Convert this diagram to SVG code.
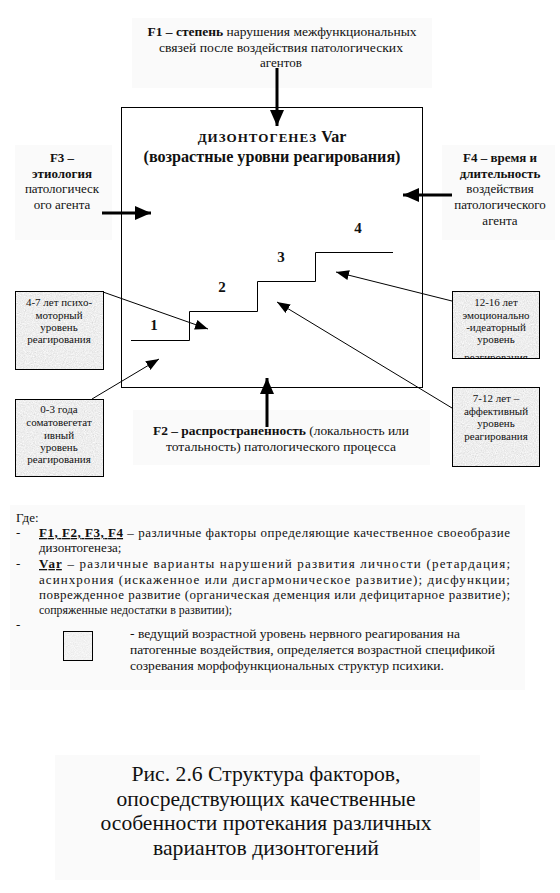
<svg xmlns="http://www.w3.org/2000/svg" width="560" height="893" viewBox="0 0 560 893">
<style>
text{font-family:"Liberation Serif","DejaVu Serif",serif;fill:#111}
.f{font-size:13px}
.b{font-weight:bold}
.lv{font-size:11px}
.lg{font-size:13px}
.cap{font-size:21px}
.bg{fill:#fafafa}
.thick{stroke:#000;stroke-width:3;fill:none}
.thin{stroke:#000;stroke-width:1;fill:none}
.box{fill:none;stroke:#000;stroke-width:1}
.u{text-decoration:underline}
</style>
<defs>
<marker id="hb" markerUnits="userSpaceOnUse" markerWidth="16" markerHeight="14" refX="16" refY="7" orient="auto"><path d="M0,0 L16,7 L0,14 z" fill="#000"/></marker>
<marker id="ht" markerUnits="userSpaceOnUse" markerWidth="13" markerHeight="10" refX="13" refY="5" orient="auto"><path d="M0,0 L13,5 L0,10 z" fill="#000"/></marker>
<filter id="tex" x="0" y="0" width="100%" height="100%">
<feTurbulence type="fractalNoise" baseFrequency="0.9" numOctaves="2" seed="4" result="n"/>
<feColorMatrix in="n" type="matrix" values="0.2 0.2 0.2 0 0.55  0.2 0.2 0.2 0 0.55  0.2 0.2 0.2 0 0.55  0 0 0 0 1" result="g"/>
<feComposite in="g" in2="SourceGraphic" operator="in"/>
</filter>
<clipPath id="clip1216"><rect x="452" y="291" width="88" height="67"/></clipPath>
</defs>
<rect width="560" height="893" fill="#fff"/>

<g id="f1">
<rect class="bg" x="132" y="18" width="300" height="70"/>
<text class="f" text-anchor="middle"><tspan x="282" y="36" textLength="269" lengthAdjust="spacingAndGlyphs"><tspan class="b">F1 – степень</tspan> нарушения межфункциональных</tspan></text>
<text class="f" text-anchor="middle" x="281" y="52" textLength="244" lengthAdjust="spacingAndGlyphs">связей после воздействия патологических</text>
<text class="f" text-anchor="middle" x="281" y="67">агентов</text>
</g>

<g id="f3">
<rect class="bg" x="15" y="145" width="97" height="95"/>
<text class="f" text-anchor="middle"><tspan x="62" y="162" class="b">F3 –</tspan><tspan x="62" y="178" class="b">этиология</tspan><tspan x="62" y="193">патологическ</tspan><tspan x="62" y="209">ого агента</tspan></text>
</g>

<g id="f4">
<rect class="bg" x="442" y="145" width="113" height="95"/>
<text class="f" text-anchor="middle"><tspan x="500" y="162" class="b">F4 – время и</tspan><tspan x="500" y="178" class="b">длительность</tspan><tspan x="500" y="193">воздействия</tspan><tspan x="500" y="209">патологического</tspan><tspan x="500" y="225">агента</tspan></text>
</g>

<g id="f2">
<rect class="bg" x="133" y="410" width="297" height="55"/>
<text class="f" text-anchor="middle" x="281" y="435" textLength="256" lengthAdjust="spacingAndGlyphs"><tspan class="b">F2 – распространенность</tspan> (локальность или</text>
<text class="f" text-anchor="middle" x="281" y="451" textLength="230" lengthAdjust="spacingAndGlyphs">тотальность) патологического процесса</text>
</g>

<g id="main">
<rect class="box" x="121.5" y="107.5" width="301" height="280"/>
<text class="b" font-size="16" text-anchor="middle" x="272" y="142"><tspan font-size="13" letter-spacing="1">ДИЗОНТОГЕНЕЗ</tspan> Var</text>
<text class="b" font-size="16" text-anchor="middle" x="272" y="162" textLength="257" lengthAdjust="spacingAndGlyphs">(возрастные уровни реагирования)</text>
<path class="thin" stroke-width="1.3" d="M131,340.5 H189.5 V311.5 H257.5 V281.5 H315.5 V252.5 H393"/>
<text class="b" font-size="15" text-anchor="middle"><tspan x="154" y="330">1</tspan><tspan x="222" y="292">2</tspan><tspan x="281" y="262">3</tspan><tspan x="358" y="233">4</tspan></text>
</g>

<g id="lvl47">
<rect x="15" y="291" width="88" height="78" fill="#ddd" filter="url(#tex)"/>
<rect class="box" x="15.5" y="291.5" width="88" height="78"/>
<text class="lv" text-anchor="middle"><tspan x="59" y="306">4-7 лет психо-</tspan><tspan x="59" y="319">моторный</tspan><tspan x="59" y="331">уровень</tspan><tspan x="59" y="343">реагирования</tspan></text>
</g>

<g id="lvl03">
<rect x="15" y="399" width="88" height="78" fill="#ddd" filter="url(#tex)"/>
<rect class="box" x="15.5" y="399.5" width="88" height="77"/>
<text class="lv" text-anchor="middle"><tspan x="59" y="413">0-3 года</tspan><tspan x="59" y="426">соматовегетат</tspan><tspan x="59" y="439">ивный</tspan><tspan x="59" y="451">уровень</tspan><tspan x="59" y="463">реагирования</tspan></text>
</g>

<g id="lvl1216">
<rect x="452" y="291" width="88" height="68" fill="#ddd" filter="url(#tex)"/>
<text class="lv" text-anchor="middle" clip-path="url(#clip1216)"><tspan x="496" y="306">12-16 лет</tspan><tspan x="496" y="319">эмоционально</tspan><tspan x="496" y="331">-идеаторный</tspan><tspan x="496" y="343">уровень</tspan><tspan x="496" y="361">реагирования</tspan></text>
<rect class="box" x="452.5" y="291.5" width="87" height="67"/>
</g>

<g id="lvl712">
<rect x="452" y="387" width="88" height="79" fill="#ddd" filter="url(#tex)"/>
<rect class="box" x="452.5" y="387.5" width="87" height="79"/>
<text class="lv" text-anchor="middle"><tspan x="496" y="402">7-12 лет –</tspan><tspan x="496" y="415">аффективный</tspan><tspan x="496" y="427">уровень</tspan><tspan x="496" y="440">реагирования</tspan></text>
</g>

<g id="connectors">
<line class="thick" x1="277" y1="68" x2="277" y2="126" marker-end="url(#hb)"/>
<line class="thick" x1="102" y1="213" x2="151" y2="213" marker-end="url(#hb)"/>
<line class="thick" x1="452" y1="195" x2="403" y2="195" marker-end="url(#hb)"/>
<line class="thick" x1="267" y1="427" x2="267" y2="378" marker-end="url(#hb)"/>
<line class="thin" x1="103" y1="292" x2="208" y2="329" marker-end="url(#ht)"/>
<line class="thin" x1="92" y1="399" x2="159" y2="359" marker-end="url(#ht)"/>
<line class="thin" x1="452" y1="301" x2="336" y2="272" marker-end="url(#ht)"/>
<line class="thin" x1="452" y1="408" x2="277" y2="302" marker-end="url(#ht)"/>
</g>

<g id="legend">
<rect class="bg" x="10" y="505" width="515" height="185"/>
<text class="lg" x="16" y="522">Где:</text>
<text class="lg" x="16" y="537">-</text>
<text class="lg" x="39" y="537" textLength="471" lengthAdjust="spacing"><tspan class="b u">F1, F2, F3, F4</tspan> – различные факторы определяющие качественное своеобразие</text>
<text class="lg" x="39" y="552">дизонтогенеза;</text>
<text class="lg" x="16" y="568">-</text>
<text class="lg" x="39" y="568" textLength="471" lengthAdjust="spacing"><tspan class="b u">Var</tspan> – различные варианты нарушений развития личности (ретардация;</text>
<text class="lg" x="39" y="584" textLength="471" lengthAdjust="spacing">асинхрония (искаженное или дисгармоническое развитие); дисфункции;</text>
<text class="lg" x="39" y="599" textLength="471" lengthAdjust="spacing">поврежденное развитие (органическая деменция или дефицитарное развитие);</text>
<text class="lg" x="39" y="614" textLength="193" lengthAdjust="spacingAndGlyphs">сопряженные недостатки в развитии);</text>
<text class="lg" x="16" y="629">-</text>
<rect x="63" y="631" width="29" height="29" fill="#e8e8e8" filter="url(#tex)" opacity="0.6"/>
<rect class="box" x="63.5" y="631.5" width="29" height="29"/>
<text class="lg" x="130" y="638" textLength="330" lengthAdjust="spacingAndGlyphs">- ведущий возрастной уровень нервного реагирования на</text>
<text class="lg" x="130" y="654" textLength="365" lengthAdjust="spacingAndGlyphs">патогенные воздействия, определяется возрастной спецификой</text>
<text class="lg" x="130" y="670" textLength="314" lengthAdjust="spacingAndGlyphs">созревания морфофункциональных структур психики.</text>
</g>

<g id="caption">
<rect class="bg" x="55" y="755" width="425" height="125"/>
<text class="cap" text-anchor="middle" x="266" y="781" textLength="269" lengthAdjust="spacingAndGlyphs">Рис. 2.6 Структура факторов,</text>
<text class="cap" text-anchor="middle" x="266" y="806" textLength="299" lengthAdjust="spacingAndGlyphs">опосредствующих качественные</text>
<text class="cap" text-anchor="middle" x="266" y="830" textLength="331" lengthAdjust="spacingAndGlyphs">особенности протекания различных</text>
<text class="cap" text-anchor="middle" x="266" y="855" textLength="226" lengthAdjust="spacingAndGlyphs">вариантов дизонтогений</text>
</g>
</svg>
